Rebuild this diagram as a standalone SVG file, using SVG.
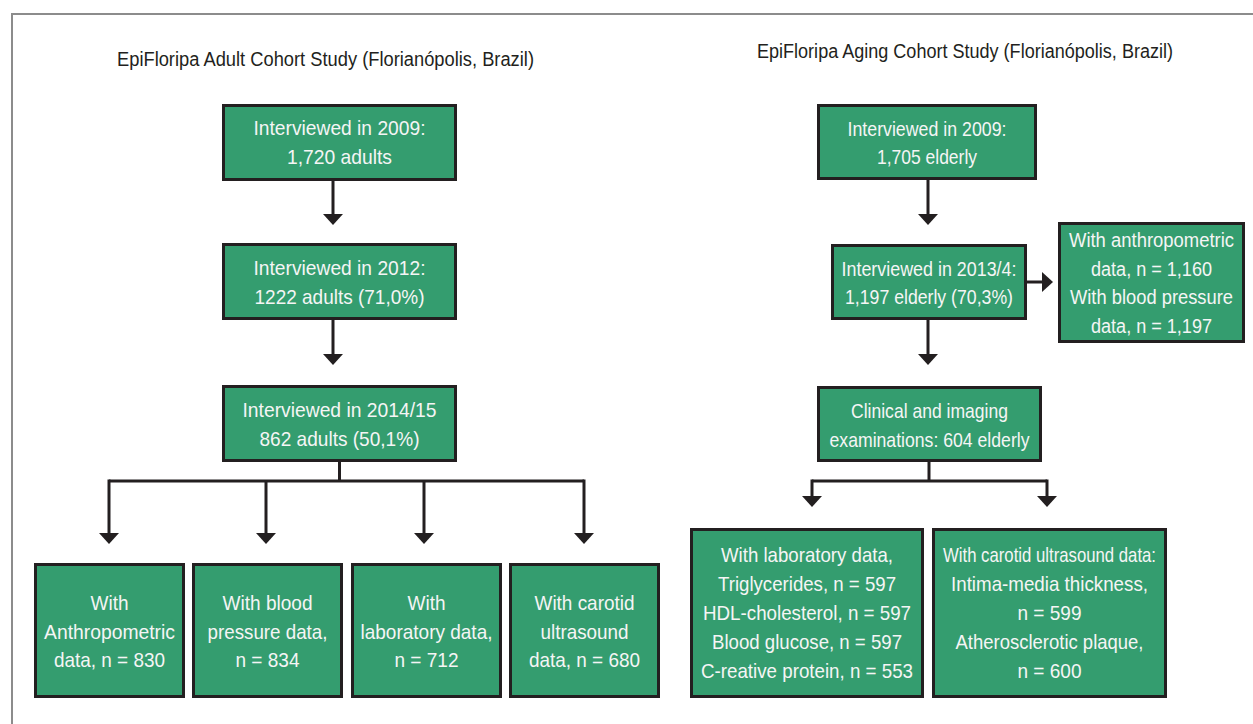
<svg xmlns="http://www.w3.org/2000/svg" width="1253" height="724" viewBox="0 0 1253 724">
<style>
.frame{fill:none;stroke:#8c8c8c;stroke-width:2}
.box{fill:#349d6f;stroke:#231f20;stroke-width:3}
.t{font-family:"Liberation Sans",Arial,sans-serif;font-size:21px;fill:#f5f5f5;text-anchor:middle}
.s{font-size:20px}
.title{font-family:"Liberation Sans",Arial,sans-serif;font-size:19.5px;fill:#231f20}
.c{fill:none;stroke:#231f20;stroke-width:3}
</style>
<defs>
<marker id="ah" markerUnits="userSpaceOnUse" markerWidth="12" markerHeight="22" refX="0" refY="10" orient="auto">
<path d="M0,0 L11,10 L0,20 Z" fill="#231f20"/>
</marker>
</defs>
<rect width="1253" height="724" fill="#ffffff"/>
<path class="frame" d="M12,724 L12,14 L1253,14"/>
<text class="title" x="117" y="65.5" textLength="417" lengthAdjust="spacingAndGlyphs">EpiFloripa Adult Cohort Study (Florianópolis, Brazil)</text>
<text class="title" x="757" y="58" textLength="416" lengthAdjust="spacingAndGlyphs">EpiFloripa Aging Cohort Study (Florianópolis, Brazil)</text>

<g id="connectors">
<path class="c" d="M333,181 L333,214" marker-end="url(#ah)"/>
<path class="c" d="M333,320 L333,354" marker-end="url(#ah)"/>
<path class="c" d="M339.5,462 L339.5,481"/>
<path class="c" d="M109,481 L584,481"/>
<path class="c" d="M109,479.5 L109,533" marker-end="url(#ah)"/>
<path class="c" d="M266,481 L266,533" marker-end="url(#ah)"/>
<path class="c" d="M424,481 L424,533" marker-end="url(#ah)"/>
<path class="c" d="M584,479.5 L584,533" marker-end="url(#ah)"/>
<path class="c" d="M928,180 L928,214" marker-end="url(#ah)"/>
<path class="c" d="M1027,282 L1042,282" marker-end="url(#ah)"/>
<path class="c" d="M928,320 L928,354" marker-end="url(#ah)"/>
<path class="c" d="M929,462 L929,481"/>
<path class="c" d="M812,481 L1047,481"/>
<path class="c" d="M812,479.5 L812,496" marker-end="url(#ah)"/>
<path class="c" d="M1047,479.5 L1047,496" marker-end="url(#ah)"/>
</g>

<g id="adult2009">
<rect class="box" x="223.5" y="105.5" width="232" height="74"/>
<text class="t" x="339.5" y="135" textLength="172" lengthAdjust="spacingAndGlyphs">Interviewed in 2009:</text>
<text class="t" x="339.5" y="163.5" textLength="105" lengthAdjust="spacingAndGlyphs">1,720 adults</text>
</g>
<g id="adult2012">
<rect class="box" x="223.5" y="244.5" width="232" height="74"/>
<text class="t" x="339.5" y="275" textLength="172" lengthAdjust="spacingAndGlyphs">Interviewed in 2012:</text>
<text class="t" x="339.5" y="304" textLength="170" lengthAdjust="spacingAndGlyphs">1222 adults (71,0%)</text>
</g>
<g id="adult2014">
<rect class="box" x="223.5" y="386.5" width="232" height="74"/>
<text class="t" x="339.5" y="417" textLength="194" lengthAdjust="spacingAndGlyphs">Interviewed in 2014/15</text>
<text class="t" x="339.5" y="446" textLength="160" lengthAdjust="spacingAndGlyphs">862 adults (50,1%)</text>
</g>
<g id="adultAnthro">
<rect class="box" x="35.5" y="564.5" width="148" height="132"/>
<text class="t" x="109.5" y="610" textLength="38" lengthAdjust="spacingAndGlyphs">With</text>
<text class="t" x="109.5" y="638.5" textLength="131" lengthAdjust="spacingAndGlyphs">Anthropometric</text>
<text class="t" x="109.5" y="667" textLength="111" lengthAdjust="spacingAndGlyphs">data, n = 830</text>
</g>
<g id="adultBP">
<rect class="box" x="193.5" y="564.5" width="148" height="132"/>
<text class="t" x="267.5" y="610" textLength="90" lengthAdjust="spacingAndGlyphs">With blood</text>
<text class="t" x="267.5" y="638.5" textLength="120" lengthAdjust="spacingAndGlyphs">pressure data,</text>
<text class="t" x="267.5" y="667" textLength="64" lengthAdjust="spacingAndGlyphs">n = 834</text>
</g>
<g id="adultLab">
<rect class="box" x="352.5" y="564.5" width="148" height="132"/>
<text class="t" x="426.5" y="610" textLength="38" lengthAdjust="spacingAndGlyphs">With</text>
<text class="t" x="426.5" y="638.5" textLength="132" lengthAdjust="spacingAndGlyphs">laboratory data,</text>
<text class="t" x="426.5" y="667" textLength="64" lengthAdjust="spacingAndGlyphs">n = 712</text>
</g>
<g id="adultCarotid">
<rect class="box" x="510.5" y="564.5" width="148" height="132"/>
<text class="t" x="584.5" y="610" textLength="100" lengthAdjust="spacingAndGlyphs">With carotid</text>
<text class="t" x="584.5" y="638.5" textLength="88" lengthAdjust="spacingAndGlyphs">ultrasound</text>
<text class="t" x="584.5" y="667" textLength="111" lengthAdjust="spacingAndGlyphs">data, n = 680</text>
</g>

<g id="aging2009">
<rect class="box" x="818.5" y="105.5" width="217" height="73"/>
<text class="t" x="927" y="136" textLength="159" lengthAdjust="spacingAndGlyphs">Interviewed in 2009:</text>
<text class="t" x="927" y="164" textLength="100" lengthAdjust="spacingAndGlyphs">1,705 elderly</text>
</g>
<g id="aging2013">
<rect class="box" x="832.5" y="245.5" width="193" height="73"/>
<text class="t" x="929" y="276" textLength="175" lengthAdjust="spacingAndGlyphs">Interviewed in 2013/4:</text>
<text class="t" x="929" y="304" textLength="168" lengthAdjust="spacingAndGlyphs">1,197 elderly (70,3%)</text>
</g>
<g id="agingAnthroBP">
<rect class="box" x="1059.5" y="223.5" width="184" height="118"/>
<text class="t s" x="1151.5" y="247" textLength="165" lengthAdjust="spacingAndGlyphs">With anthropometric</text>
<text class="t s" x="1151.5" y="275.5" textLength="121" lengthAdjust="spacingAndGlyphs">data, n = 1,160</text>
<text class="t s" x="1151.5" y="304" textLength="163" lengthAdjust="spacingAndGlyphs">With blood pressure</text>
<text class="t s" x="1151.5" y="332.5" textLength="121" lengthAdjust="spacingAndGlyphs">data, n = 1,197</text>
</g>
<g id="agingClinical">
<rect class="box" x="818.5" y="387.5" width="222" height="73"/>
<text class="t" x="929.5" y="418" textLength="157" lengthAdjust="spacingAndGlyphs">Clinical and imaging</text>
<text class="t" x="929.5" y="446.5" textLength="200" lengthAdjust="spacingAndGlyphs">examinations: 604 elderly</text>
</g>
<g id="agingLab">
<rect class="box" x="691.5" y="529.5" width="231" height="167"/>
<text class="t" x="807" y="562" textLength="172" lengthAdjust="spacingAndGlyphs">With laboratory data,</text>
<text class="t" x="807" y="591" textLength="178" lengthAdjust="spacingAndGlyphs">Triglycerides, n = 597</text>
<text class="t" x="807" y="620" textLength="208" lengthAdjust="spacingAndGlyphs">HDL-cholesterol, n = 597</text>
<text class="t" x="807" y="649" textLength="190" lengthAdjust="spacingAndGlyphs">Blood glucose, n = 597</text>
<text class="t" x="807" y="677.5" textLength="212" lengthAdjust="spacingAndGlyphs">C-reative protein, n = 553</text>
</g>
<g id="agingCarotid">
<rect class="box" x="933.5" y="529.5" width="232" height="167"/>
<text class="t" x="1049.5" y="562" textLength="213" lengthAdjust="spacingAndGlyphs">With carotid ultrasound data:</text>
<text class="t" x="1049.5" y="591" textLength="197" lengthAdjust="spacingAndGlyphs">Intima-media thickness,</text>
<text class="t" x="1049.5" y="620" textLength="64" lengthAdjust="spacingAndGlyphs">n = 599</text>
<text class="t" x="1049.5" y="649" textLength="188" lengthAdjust="spacingAndGlyphs">Atherosclerotic plaque,</text>
<text class="t" x="1049.5" y="677.5" textLength="64" lengthAdjust="spacingAndGlyphs">n = 600</text>
</g>
</svg>
